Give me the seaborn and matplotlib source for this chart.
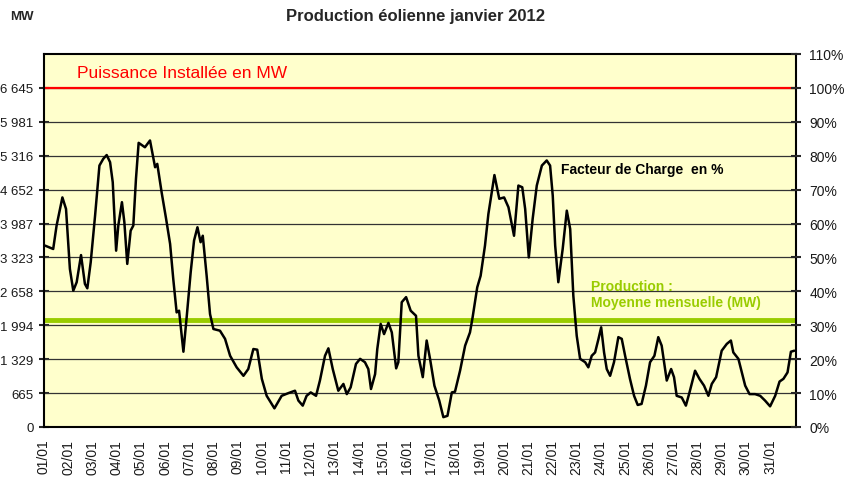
#!/usr/bin/env python3
"""Production eolienne janvier 2012 - puissance et facteur de charge."""

import matplotlib

matplotlib.use("Agg")

import matplotlib.pyplot as plt
import pandas as pd
import seaborn as sns

PUISSANCE_INSTALLEE_MW = 6645
MOYENNE_MENSUELLE_MW = 2097

# position in days since 01/01 00:00, load factor in %
JOURS = [
    0.04, 0.38, 0.52, 0.76, 0.91, 1.07, 1.21, 1.35, 1.53, 1.69, 1.79, 1.93,
    2.11, 2.29, 2.45, 2.59, 2.73, 2.84, 2.98, 3.07, 3.22, 3.32, 3.44, 3.58,
    3.69, 3.80, 3.91, 4.17, 4.38, 4.59, 4.68, 4.86, 5.04, 5.21, 5.34, 5.48,
    5.58, 5.76, 5.90, 6.06, 6.20, 6.34, 6.47, 6.56, 6.72, 6.86, 7.00, 7.27,
    7.48, 7.69, 7.96, 8.24, 8.44, 8.65, 8.81, 9.00, 9.20, 9.52, 9.82, 10.10,
    10.37, 10.51, 10.69, 10.85, 11.02, 11.24, 11.40, 11.61, 11.75, 11.93,
    12.16, 12.37, 12.51, 12.67, 12.89, 13.06, 13.26, 13.40, 13.51, 13.68,
    13.77, 13.91, 14.05, 14.23, 14.37, 14.55, 14.64, 14.78, 14.96, 15.15,
    15.37, 15.47, 15.65, 15.81, 15.95, 16.13, 16.33, 16.50, 16.67, 16.85,
    16.98, 17.19, 17.40, 17.60, 17.71, 17.90, 18.04, 18.22, 18.36, 18.50,
    18.61, 18.81, 19.01, 19.19, 19.42, 19.60, 19.76, 19.88, 20.03, 20.19,
    20.36, 20.57, 20.77, 20.91, 21.02, 21.12, 21.25, 21.43, 21.60, 21.74,
    21.87, 22.01, 22.15, 22.36, 22.49, 22.63, 22.77, 22.91, 23.02, 23.14,
    23.25, 23.39, 23.55, 23.73, 23.87, 24.01, 24.21, 24.38, 24.53, 24.69,
    24.87, 25.04, 25.22, 25.38, 25.52, 25.62, 25.73, 25.91, 26.03, 26.14,
    26.35, 26.52, 26.67, 26.90, 27.08, 27.27, 27.45, 27.59, 27.77, 28.00,
    28.21, 28.38, 28.48, 28.69, 28.83, 28.97, 29.15, 29.38, 29.59, 29.79,
    30.00, 30.21, 30.39, 30.55, 30.72, 30.86, 31.00,
]
FACTEUR_CHARGE = [
    53.5, 52.5, 59.4, 67.7, 64.3, 46.6, 40.2, 42.7, 50.7, 42.2, 40.9, 48.6,
    62.3, 77.1, 79.1, 80.2, 78.1, 72.2, 52.0, 59.4, 66.3, 60.4, 48.1, 57.9,
    59.4, 73.2, 83.8, 82.5, 84.5, 76.6, 77.6, 69.2, 61.6, 54.0, 43.7, 33.8,
    34.3, 22.2, 32.8, 45.6, 55.0, 58.9, 54.5, 56.4, 44.6, 33.3, 28.9, 28.4,
    26.0, 21.0, 17.6, 15.1, 17.1, 23.0, 22.8, 14.2, 9.2, 5.5, 9.2, 10.0,
    10.7, 7.8, 6.3, 9.2, 10.2, 9.2, 13.7, 21.0, 23.2, 17.1,
    10.7, 12.7, 9.7, 11.7, 18.6, 20.1, 19.1, 17.1, 11.2, 15.6,
    23.0, 30.4, 27.4, 30.7, 27.9, 17.3, 19.1, 36.8, 38.3, 34.3,
    32.8, 21.0, 14.7, 25.5, 20.1, 12.2, 7.8, 2.9, 3.3, 10.2,
    10.4, 16.6, 24.0, 27.9, 32.4, 41.2, 44.6, 53.5, 62.8, 69.2,
    74.3, 67.3, 67.7, 64.8, 56.4, 71.2, 70.7, 64.3, 50.0, 61.4,
    71.2, 77.1, 78.6, 77.1, 68.2, 53.5, 42.7, 52.5, 63.8, 58.4,
    38.7, 26.9, 20.1, 19.1, 17.6, 21.0, 22.0, 26.0, 29.4, 22.0,
    17.1, 15.1, 19.1, 26.5, 26.0, 21.0, 14.2, 9.2, 6.5, 6.8,
    12.2, 19.1, 21.0, 26.5, 24.0, 19.1, 13.7, 17.1, 14.7, 9.2,
    8.7, 6.3, 10.2, 16.6, 14.2, 12.2, 9.2, 12.7, 14.7, 22.5,
    24.5, 25.5, 22.0, 20.1, 16.1, 12.2, 9.7, 9.7, 9.2, 7.8,
    6.1, 9.2, 13.4, 14.2, 16.1, 22.2, 22.5,
]
JOURS_LABELS = [f"{d:02d}/01" for d in range(1, 32)]
POURCENT_LABELS = [f"{k * 10}%" for k in range(12)]

FOND = "#FFFFCC"
ROUGE = "#FF0000"
VERT = "#99CC00"
TEXTE = "#1a1a1a"


def mw_from_pct(pct: float) -> float:
    return pct / 100 * PUISSANCE_INSTALLEE_MW


def main() -> None:
    sns.set_theme(style="white")
    plt.rcParams["font.family"] = ["Liberation Sans", "DejaVu Sans"]

    data = pd.DataFrame({"jour": JOURS, "facteur": FACTEUR_CHARGE})
    data["mw"] = data["facteur"].map(mw_from_pct)

    fig = plt.figure(figsize=(8.44, 4.81), dpi=100)
    ax = fig.add_axes([44 / 844, 53 / 481, 752 / 844, 373 / 481])
    ax.set_facecolor(FOND)

    ymax = PUISSANCE_INSTALLEE_MW * 1.1
    mw_ticks = [PUISSANCE_INSTALLEE_MW * k / 10 for k in range(11)]
    for y in mw_ticks[1:]:
        ax.axhline(y, color="#333333", linewidth=0.9, zorder=1)

    ax.axhline(PUISSANCE_INSTALLEE_MW, color=ROUGE, linewidth=1.6, zorder=2)
    ax.axhline(MOYENNE_MENSUELLE_MW, color=VERT, linewidth=3.5, zorder=2)
    sns.lineplot(data=data, x="jour", y="mw", ax=ax, color="black", linewidth=1.8, zorder=3)

    ax.set_xlim(0, 31.07)
    ax.set_ylim(0, ymax)
    ax.set_xticks(range(31))
    ax.set_xticklabels(JOURS_LABELS, rotation=90, fontsize=10, color=TEXTE)
    ax.set_yticks(mw_ticks)
    ax.set_yticklabels([f"{int(round(v + 1e-6)):,}".replace(",", " ") for v in mw_ticks],
                       fontsize=9.5, color=TEXTE)
    ax.set_xlabel("")
    ax.set_ylabel("")
    ax.tick_params(axis="both", direction="inout", length=7, width=1.5)
    ax.tick_params(axis="y", pad=4)
    ax.tick_params(axis="x", pad=5)
    for spine in ax.spines.values():
        spine.set_color("black")
        spine.set_linewidth(1.5)

    ax2 = ax.twinx()
    ax2.set_ylim(0, 1.1)
    ax2.set_yticks([k / 10 for k in range(12)])
    ax2.set_yticklabels(POURCENT_LABELS, fontsize=10, color=TEXTE)
    ax2.tick_params(axis="y", direction="inout", length=7, width=1.5, pad=6)
    for spine in ax2.spines.values():
        spine.set_visible(False)

    ax.text(1.35, mw_from_pct(104.5), "Puissance Installée en MW", color=ROUGE,
            fontsize=12.5, va="center")
    ax.text(21.35, mw_from_pct(76.1), "Facteur de Charge  en %", color="black",
            fontsize=10, fontweight="bold", va="center")
    ax.text(22.6, mw_from_pct(41.6), "Production :", color=VERT, fontsize=10,
            fontweight="bold", va="center")
    ax.text(22.6, mw_from_pct(36.9), "Moyenne mensuelle (MW)", color=VERT, fontsize=10,
            fontweight="bold", va="center")

    fig.text(415 / 844, 1 - 16 / 481, "Production éolienne janvier 2012", ha="center",
             va="center", fontsize=12, fontweight="bold")
    fig.text(10 / 844, 1 - 17 / 481, "MW", ha="left", va="center", fontsize=9.5,
             fontweight="bold")

    fig.savefig("out.png", dpi=100, facecolor="white")
    plt.close(fig)


if __name__ == "__main__":
    main()
